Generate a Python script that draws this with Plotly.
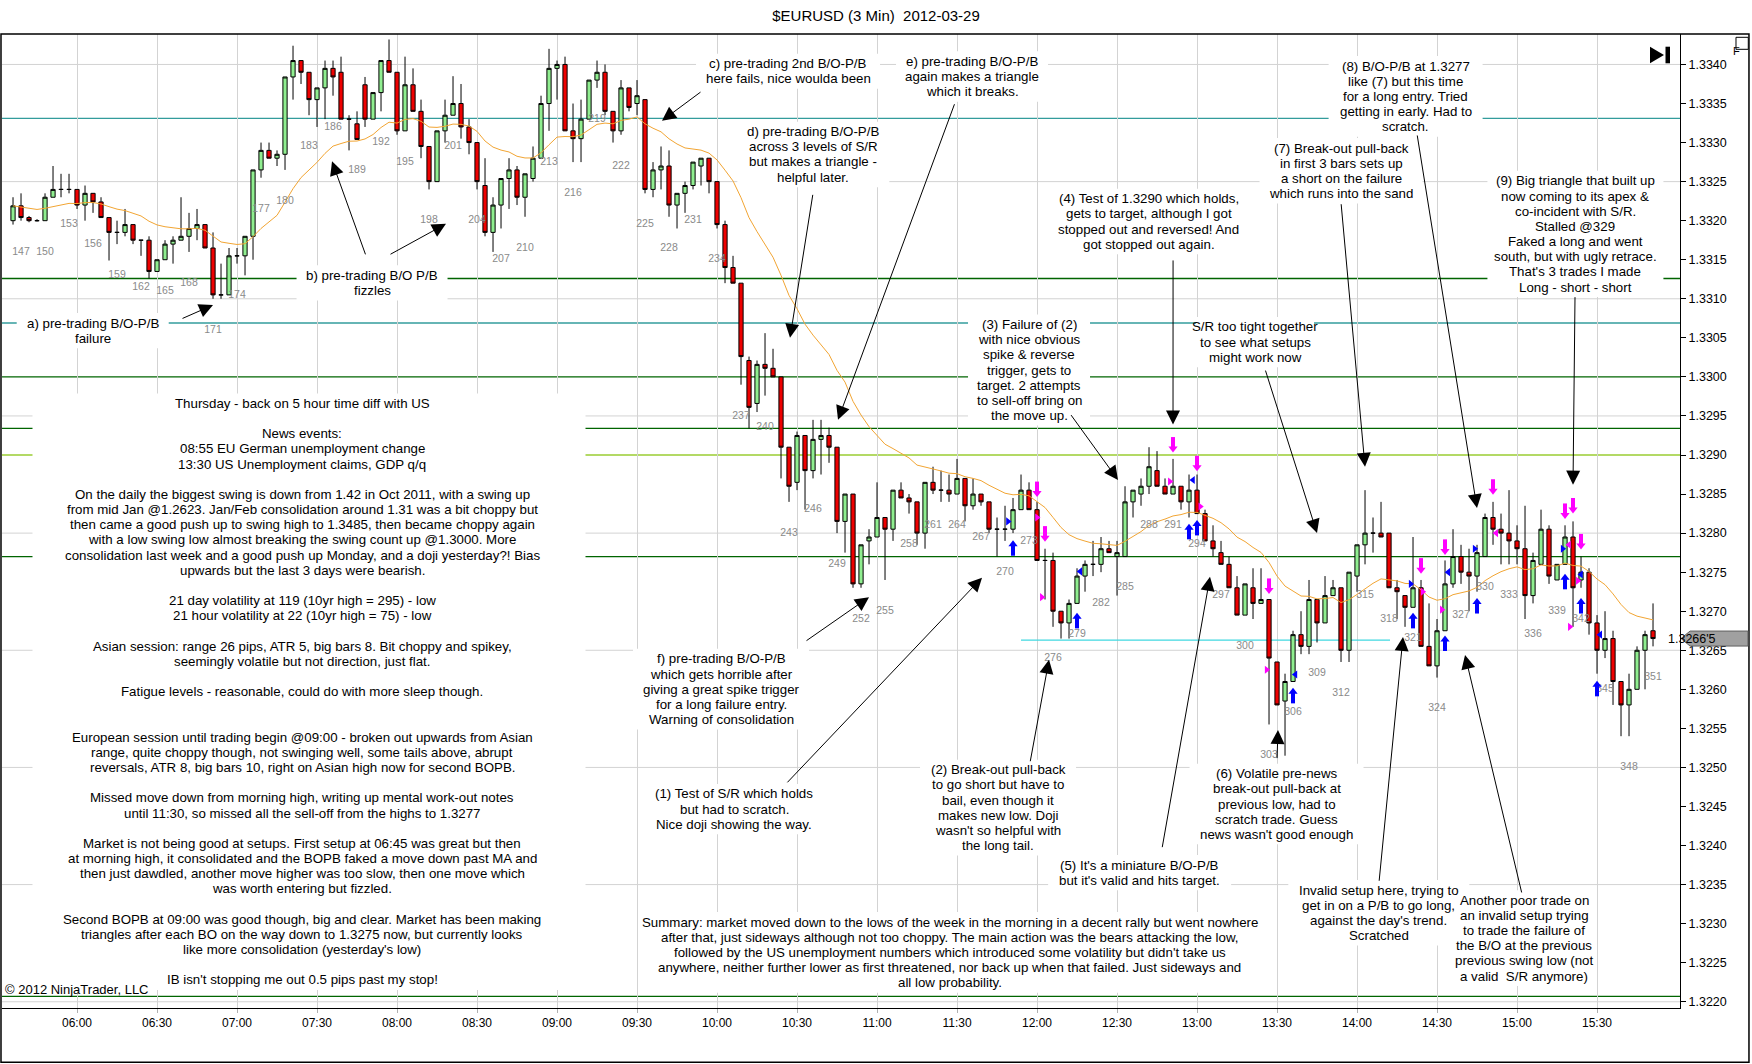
import pandas as pd
import plotly.graph_objects as go

DAY = "2012-03-29 "

# 3 minute bars, bar numbers 146..351 (bar 154 closes at 06:00)
first_bar = 146
bar_open = [
    1.33200, 1.33219, 1.33204, 1.33200, 1.33200, 1.33230, 1.33240, 1.33240, 1.33240, 1.33220,
    1.33235, 1.33224, 1.33204, 1.33185, 1.33185, 1.33195, 1.33175, 1.33175, 1.33135, 1.33150,
    1.33170, 1.33175, 1.33180, 1.33190, 1.33195, 1.33165, 1.33105, 1.33105, 1.33155, 1.33155,
    1.33180, 1.33265, 1.33290, 1.33280, 1.33285, 1.33384, 1.33405, 1.33390, 1.33355, 1.33370,
    1.33395, 1.33390, 1.33330, 1.33324, 1.33374, 1.33330, 1.33364, 1.33405, 1.33390, 1.33315,
    1.33374, 1.33340, 1.33295, 1.33250, 1.33315, 1.33335, 1.33350, 1.33320, 1.33300, 1.33245,
    1.33185, 1.33220, 1.33254, 1.33265, 1.33230, 1.33254, 1.33280, 1.33350, 1.33395, 1.33400,
    1.33315, 1.33305, 1.33330, 1.33380, 1.33390, 1.33340, 1.33315, 1.33370, 1.33350, 1.33355,
    1.33240, 1.33265, 1.33270, 1.33220, 1.33235, 1.33245, 1.33270, 1.33280, 1.33250, 1.33195,
    1.33140, 1.33120, 1.33021, 1.32966, 1.33016, 1.33011, 1.33000, 1.32910, 1.32865, 1.32925,
    1.32880, 1.32920, 1.32925, 1.32910, 1.32815, 1.32850, 1.32735, 1.32790, 1.32795, 1.32820,
    1.32805, 1.32855, 1.32845, 1.32840, 1.32800, 1.32865, 1.32855, 1.32855, 1.32850, 1.32870,
    1.32835, 1.32850, 1.32840, 1.32805, 1.32805, 1.32805, 1.32830, 1.32855, 1.32830, 1.32765,
    1.32765, 1.32700, 1.32685, 1.32710, 1.32745, 1.32760, 1.32760, 1.32780, 1.32770, 1.32770,
    1.32840, 1.32850, 1.32860, 1.32880, 1.32860, 1.32850, 1.32860, 1.32840, 1.32855, 1.32825,
    1.32790, 1.32775, 1.32760, 1.32730, 1.32695, 1.32730, 1.32710, 1.32715, 1.32635, 1.32585,
    1.32610, 1.32670, 1.32655, 1.32715, 1.32685, 1.32720, 1.32730, 1.32650, 1.32745, 1.32785,
    1.32800, 1.32800, 1.32800, 1.32730, 1.32720, 1.32705, 1.32730, 1.32655, 1.32630, 1.32675,
    1.32735, 1.32770, 1.32750, 1.32745, 1.32770, 1.32820, 1.32805, 1.32800, 1.32790, 1.32780,
    1.32720, 1.32760, 1.32805, 1.32740, 1.32760, 1.32795, 1.32740, 1.32750, 1.32685, 1.32650,
    1.32665, 1.32610, 1.32580, 1.32600, 1.32650, 1.32675,
]
bar_high = [
    1.33230, 1.33235, 1.33206, 1.33202, 1.33235, 1.33270, 1.33260, 1.33260, 1.33240, 1.33245,
    1.33235, 1.33230, 1.33204, 1.33200, 1.33215, 1.33195, 1.33175, 1.33180, 1.33150, 1.33175,
    1.33180, 1.33230, 1.33210, 1.33215, 1.33195, 1.33185, 1.33145, 1.33165, 1.33165, 1.33180,
    1.33265, 1.33300, 1.33300, 1.33290, 1.33384, 1.33424, 1.33405, 1.33390, 1.33370, 1.33405,
    1.33405, 1.33410, 1.33335, 1.33340, 1.33384, 1.33364, 1.33405, 1.33432, 1.33390, 1.33410,
    1.33395, 1.33355, 1.33295, 1.33315, 1.33355, 1.33385, 1.33375, 1.33330, 1.33300, 1.33280,
    1.33230, 1.33254, 1.33280, 1.33270, 1.33260, 1.33295, 1.33360, 1.33420, 1.33405, 1.33410,
    1.33350, 1.33355, 1.33380, 1.33405, 1.33400, 1.33340, 1.33380, 1.33370, 1.33380, 1.33355,
    1.33275, 1.33295, 1.33290, 1.33235, 1.33250, 1.33275, 1.33280, 1.33280, 1.33250, 1.33200,
    1.33155, 1.33120, 1.33026, 1.33021, 1.33056, 1.33036, 1.33000, 1.32910, 1.32930, 1.32925,
    1.32945, 1.32945, 1.32935, 1.32910, 1.32850, 1.32850, 1.32785, 1.32805, 1.32865, 1.32820,
    1.32855, 1.32865, 1.32850, 1.32840, 1.32865, 1.32885, 1.32880, 1.32875, 1.32895, 1.32870,
    1.32870, 1.32850, 1.32840, 1.32820, 1.32835, 1.32845, 1.32875, 1.32865, 1.32840, 1.32780,
    1.32775, 1.32700, 1.32715, 1.32755, 1.32765, 1.32790, 1.32795, 1.32790, 1.32790, 1.32860,
    1.32855, 1.32870, 1.32910, 1.32905, 1.32870, 1.32895, 1.32860, 1.32875, 1.32875, 1.32830,
    1.32810, 1.32790, 1.32770, 1.32745, 1.32735, 1.32755, 1.32755, 1.32715, 1.32635, 1.32620,
    1.32675, 1.32700, 1.32740, 1.32715, 1.32745, 1.32740, 1.32730, 1.32750, 1.32785, 1.32855,
    1.32820, 1.32840, 1.32800, 1.32740, 1.32720, 1.32795, 1.32740, 1.32710, 1.32690, 1.32765,
    1.32805, 1.32785, 1.32780, 1.32785, 1.32825, 1.32840, 1.32825, 1.32855, 1.32810, 1.32835,
    1.32775, 1.32830, 1.32810, 1.32760, 1.32810, 1.32815, 1.32770, 1.32755, 1.32695, 1.32700,
    1.32675, 1.32610, 1.32620, 1.32655, 1.32675, 1.32710,
]
bar_low = [
    1.33195, 1.33200, 1.33198, 1.33199, 1.33200, 1.33230, 1.33230, 1.33235, 1.33215, 1.33200,
    1.33210, 1.33204, 1.33149, 1.33170, 1.33180, 1.33170, 1.33155, 1.33126, 1.33135, 1.33150,
    1.33145, 1.33175, 1.33160, 1.33175, 1.33165, 1.33100, 1.33100, 1.33105, 1.33145, 1.33130,
    1.33150, 1.33255, 1.33280, 1.33270, 1.33265, 1.33355, 1.33375, 1.33335, 1.33320, 1.33330,
    1.33360, 1.33330, 1.33290, 1.33304, 1.33320, 1.33330, 1.33340, 1.33390, 1.33310, 1.33315,
    1.33340, 1.33280, 1.33240, 1.33250, 1.33300, 1.33335, 1.33305, 1.33285, 1.33240, 1.33180,
    1.33160, 1.33190, 1.33215, 1.33220, 1.33205, 1.33250, 1.33280, 1.33315, 1.33355, 1.33315,
    1.33275, 1.33275, 1.33330, 1.33370, 1.33335, 1.33300, 1.33310, 1.33340, 1.33335, 1.33235,
    1.33230, 1.33240, 1.33205, 1.33190, 1.33210, 1.33240, 1.33245, 1.33235, 1.33190, 1.33120,
    1.33120, 1.32990, 1.32934, 1.32955, 1.32976, 1.33000, 1.32870, 1.32840, 1.32855, 1.32830,
    1.32870, 1.32875, 1.32890, 1.32800, 1.32775, 1.32730, 1.32730, 1.32760, 1.32795, 1.32740,
    1.32790, 1.32845, 1.32825, 1.32785, 1.32780, 1.32850, 1.32840, 1.32840, 1.32850, 1.32815,
    1.32830, 1.32835, 1.32800, 1.32770, 1.32790, 1.32800, 1.32830, 1.32830, 1.32765, 1.32715,
    1.32680, 1.32665, 1.32665, 1.32710, 1.32725, 1.32745, 1.32750, 1.32775, 1.32720, 1.32770,
    1.32820, 1.32835, 1.32850, 1.32860, 1.32850, 1.32850, 1.32830, 1.32820, 1.32825, 1.32790,
    1.32770, 1.32760, 1.32730, 1.32695, 1.32695, 1.32690, 1.32710, 1.32555, 1.32580, 1.32515,
    1.32610, 1.32645, 1.32645, 1.32660, 1.32685, 1.32720, 1.32635, 1.32635, 1.32725, 1.32760,
    1.32775, 1.32795, 1.32730, 1.32690, 1.32680, 1.32705, 1.32655, 1.32630, 1.32615, 1.32675,
    1.32730, 1.32735, 1.32700, 1.32725, 1.32770, 1.32785, 1.32760, 1.32760, 1.32760, 1.32690,
    1.32710, 1.32760, 1.32735, 1.32740, 1.32760, 1.32680, 1.32730, 1.32670, 1.32620, 1.32640,
    1.32580, 1.32540, 1.32540, 1.32600, 1.32600, 1.32655,
]
bar_close = [
    1.33219, 1.33204, 1.33200, 1.33200, 1.33230, 1.33240, 1.33240, 1.33240, 1.33220, 1.33235,
    1.33224, 1.33204, 1.33185, 1.33185, 1.33195, 1.33175, 1.33175, 1.33135, 1.33150, 1.33170,
    1.33175, 1.33180, 1.33190, 1.33195, 1.33165, 1.33105, 1.33105, 1.33155, 1.33155, 1.33180,
    1.33265, 1.33290, 1.33280, 1.33285, 1.33384, 1.33405, 1.33390, 1.33355, 1.33370, 1.33395,
    1.33384, 1.33330, 1.33330, 1.33304, 1.33330, 1.33364, 1.33405, 1.33390, 1.33315, 1.33374,
    1.33340, 1.33295, 1.33250, 1.33315, 1.33335, 1.33350, 1.33320, 1.33300, 1.33250, 1.33185,
    1.33220, 1.33254, 1.33265, 1.33230, 1.33260, 1.33280, 1.33350, 1.33395, 1.33400, 1.33315,
    1.33305, 1.33330, 1.33380, 1.33390, 1.33340, 1.33315, 1.33370, 1.33345, 1.33360, 1.33240,
    1.33265, 1.33270, 1.33220, 1.33235, 1.33245, 1.33275, 1.33280, 1.33250, 1.33195, 1.33140,
    1.33120, 1.33026, 1.32961, 1.33016, 1.33011, 1.33000, 1.32910, 1.32860, 1.32925, 1.32880,
    1.32920, 1.32925, 1.32910, 1.32815, 1.32850, 1.32735, 1.32785, 1.32795, 1.32820, 1.32805,
    1.32855, 1.32845, 1.32840, 1.32800, 1.32865, 1.32855, 1.32855, 1.32850, 1.32870, 1.32835,
    1.32850, 1.32840, 1.32805, 1.32805, 1.32805, 1.32830, 1.32855, 1.32830, 1.32765, 1.32765,
    1.32700, 1.32685, 1.32710, 1.32745, 1.32760, 1.32760, 1.32780, 1.32775, 1.32775, 1.32840,
    1.32855, 1.32860, 1.32885, 1.32860, 1.32850, 1.32860, 1.32840, 1.32855, 1.32825, 1.32790,
    1.32780, 1.32760, 1.32730, 1.32695, 1.32735, 1.32710, 1.32715, 1.32640, 1.32580, 1.32610,
    1.32670, 1.32655, 1.32715, 1.32685, 1.32720, 1.32730, 1.32650, 1.32750, 1.32785, 1.32800,
    1.32800, 1.32795, 1.32730, 1.32725, 1.32705, 1.32730, 1.32655, 1.32630, 1.32675, 1.32735,
    1.32770, 1.32750, 1.32745, 1.32775, 1.32820, 1.32805, 1.32800, 1.32790, 1.32780, 1.32720,
    1.32765, 1.32805, 1.32745, 1.32760, 1.32795, 1.32730, 1.32750, 1.32685, 1.32650, 1.32665,
    1.32610, 1.32580, 1.32600, 1.32650, 1.32670, 1.32665,
]

# trade markers (time, price)
down_arrow_times = ["12:00:00", "12:03:00", "12:51:00", "13:00:00", "13:27:00", "14:24:00",
                    "14:33:00", "14:51:00", "15:18:00", "15:21:00", "15:24:00"]
down_arrow_prices = [1.32855, 1.32798, 1.32912, 1.32888, 1.32731, 1.32757,
                     1.32781, 1.32858, 1.32827, 1.32834, 1.32788]
up_arrow_times = ["11:51:00", "12:15:00", "12:57:00", "13:00:00", "13:36:00", "14:21:00",
                  "14:33:00", "14:45:00", "15:18:00", "15:24:00", "15:30:00"]
up_arrow_prices = [1.32782, 1.32689, 1.32803, 1.32808, 1.32593, 1.32689,
                   1.32660, 1.32708, 1.32739, 1.32708, 1.32602]
blue_right_times = ["11:49:06", "14:20:06", "14:44:06", "15:17:06"]
blue_right_prices = [1.32815, 1.32735, 1.32780, 1.32780]
blue_left_times = ["12:16:12", "12:58:30", "13:36:54", "14:34:12", "15:24:00", "15:31:12"]
blue_left_prices = [1.32751, 1.32868, 1.32619, 1.32750, 1.32747, 1.32670]
pink_right_times = ["12:00:00", "12:01:48", "12:49:48", "13:01:12", "13:26:06",
                    "14:24:36", "14:31:48", "15:19:48", "15:22:48"]
pink_right_prices = [1.32820, 1.32718, 1.32866, 1.32834, 1.32625,
                     1.32725, 1.32702, 1.32680, 1.32739]
pink_left_times = ["14:52:12", "15:19:30"]
pink_left_prices = [1.32800, 1.32785]

# support / resistance lines
sr_prices = [1.33331, 1.33126, 1.33069, 1.33000, 1.32934, 1.32900, 1.32770, 1.32207]
sr_colors = ["#339c9c", "#006400", "#339c9c", "#006400", "#006400", "#9acd32", "#006400", "#006400"]
cyan_line = ("11:54:00", "14:12:22", 1.32663)

grid_levels = [1.3220, 1.3235, 1.3250, 1.3265, 1.3280, 1.3295, 1.3310, 1.3325, 1.3340]
tick_labels = ["06:00", "06:30", "07:00", "07:30", "08:00", "08:30", "09:00", "09:30", "10:00",
               "10:30", "11:00", "11:30", "12:00", "12:30", "13:00", "13:30", "14:00", "14:30",
               "15:00", "15:30"]
last_price_text = "1.3266'5"

note_left = [
    "Thursday - back on 5 hour time diff with US",
    "",
    "News events:",
    "08:55 EU German unemployment change",
    "13:30 US Unemployment claims, GDP q/q",
    "",
    "On the daily the biggest swing is down from 1.42 in Oct 2011, with a swing up",
    "from mid Jan @1.2623. Jan/Feb consolidation around 1.31 was a bit choppy but",
    "then came a good push up to swing high to 1.3485, then became choppy again",
    "with a low swing low almost breaking the swing count up @1.3000. More",
    "consolidation last week and a good push up Monday, and a doji yesterday?! Bias",
    "upwards but the last 3 days were bearish.",
    "",
    "21 day volatility at 119 (10yr high = 295) - low",
    "21 hour volatility at 22 (10yr high = 75) - low",
    "",
    "Asian session: range 26 pips, ATR 5, big bars 8. Bit choppy and spikey,",
    "seemingly volatile but not direction, just flat.",
    "",
    "Fatigue levels - reasonable, could do with more sleep though.",
    "",
    "",
    "European session until trading begin @09:00 - broken out upwards from Asian",
    "range, quite choppy though, not swinging well, some tails above, abrupt",
    "reversals, ATR 8, big bars 10, right on Asian high now for second BOPB.",
    "",
    "Missed move down from morning high, writing up mental work-out notes",
    "until 11:30, so missed all the sell-off from the highs to 1.3277",
    "",
    "Market is not being good at setups. First setup at 06:45 was great but then",
    "at morning high, it consolidated and the BOPB faked a move down past MA and",
    "then just dawdled, another move higher was too slow, then one move which",
    "was worth entering but fizzled.",
    "",
    "Second BOPB at 09:00 was good though, big and clear. Market has been making",
    "triangles after each BO on the way down to 1.3275 now, but currently looks",
    "like more consolidation (yesterday's low)",
    "",
    "IB isn't stopping me out 0.5 pips past my stop!",
]
note_a = ["a) pre-trading B/O-P/B", "failure"]
note_b = ["b) pre-trading B/O P/B", "fizzles"]
note_c = ["c) pre-trading 2nd B/O-P/B", "here fails, nice woulda been"]
note_d = ["d) pre-trading B/O-P/B", "across 3 levels of S/R", "but makes a triangle -", "helpful later."]
note_e = ["e) pre-trading B/O-P/B", "again makes a triangle", "which it breaks."]
note_f = ["f) pre-trading B/O-P/B", "which gets horrible after", "giving a great spike trigger",
          "for a long failure entry.", "Warning of consolidation"]
note_1 = ["(1) Test of S/R which holds", "but had to scratch.", "Nice doji showing the way."]
note_2 = ["(2) Break-out pull-back", "to go short but have to", "bail, even though it",
          "makes new low. Doji", "wasn't so helpful with", "the long tail."]
note_3 = ["(3) Failure of (2)", "with nice obvious", "spike & reverse", "trigger, gets to",
          "target. 2 attempts", "to sell-off bring on", "the move up."]
note_4 = ["(4) Test of 1.3290 which holds,", "gets to target, although I got",
          "stopped out and reversed! And", "got stopped out again."]
note_5 = ["(5) It's a miniature B/O-P/B", "but it's valid and hits target."]
note_6 = ["(6) Volatile pre-news", "break-out pull-back at", "previous low, had to",
          "scratch trade. Guess", "news wasn't good enough"]
note_7 = ["(7) Break-out pull-back", "in first 3 bars sets up", "a short on the failure",
          "which runs into the sand"]
note_sr = ["S/R too tight together", "to see what setups", "might work now"]
note_8 = ["(8) B/O-P/B at 1.3277", "like (7) but this time", "for a long entry. Tried",
          "getting in early. Had to", "scratch."]
note_9 = ["(9) Big triangle that built up", "now coming to its apex &", "co-incident with S/R.",
          "Stalled @329", "Faked a long and went", "south, but with ugly retrace.",
          "That's 3 trades I made", "Long - short - short"]
note_invalid = ["Invalid setup here, trying to", "get in on a P/B to go long,",
                "against the day's trend.", "Scratched"]
note_another = ["Another poor trade on", "an invalid setup trying", "to trade the failure of",
                "the B/O at the previous", "previous swing low (not", "a valid  S/R anymore)"]
note_summary = [
    "Summary: market moved down to the lows of the week in the morning in a decent rally but went nowhere",
    "after that, just sideways although not too choppy. The main action was the bears attacking the low,",
    "followed by the US unemployment numbers which introduced some volatility but didn't take us",
    "anywhere, neither further lower as first threatened, nor back up when that failed. Just sideways and",
    "all low probability.",
]

FONT = "Liberation Sans, Arial, sans-serif"
LINE = 15.17

times = pd.date_range(DAY + "05:36", periods=len(bar_open), freq="3min")
bar_numbers = list(range(first_bar, first_bar + len(bar_open)))
ema = pd.Series(bar_close).ewm(span=20, adjust=False).mean()

fig = go.Figure()

fig.add_trace(go.Candlestick(
    x=times, open=bar_open, high=bar_high, low=bar_low, close=bar_close,
    increasing=dict(line=dict(color="black", width=1), fillcolor="#90ee90"),
    decreasing=dict(line=dict(color="black", width=1), fillcolor="#ee0000"),
    whiskerwidth=0, showlegend=False, hoverinfo="skip"))

fig.add_trace(go.Scatter(x=times, y=ema, mode="lines", line=dict(color="#f2a533", width=1),
                         showlegend=False, hoverinfo="skip"))

# bar numbers every third bar, under the low
lab_x = [t for t, n in zip(times, bar_numbers) if n % 3 == 0]
lab_y = [lo - 0.0004 for lo, n in zip(bar_low, bar_numbers) if n % 3 == 0]
lab_t = [str(n) for n in bar_numbers if n % 3 == 0]
fig.add_trace(go.Scatter(x=lab_x, y=lab_y, mode="text", text=lab_t,
                         textfont=dict(family=FONT, size=10.5, color="#8a8a8a"),
                         showlegend=False, hoverinfo="skip"))

d = 0.000038
def arrows(ts, ps, color, down):
    xs = [DAY + t for t in ts]
    sign = 1 if down else -1
    fig.add_trace(go.Scatter(x=xs, y=[p + sign * d for p in ps], mode="markers",
                             marker=dict(symbol="line-ns", size=8, line=dict(color=color, width=4)),
                             showlegend=False, hoverinfo="skip"))
    fig.add_trace(go.Scatter(x=xs, y=[p - sign * d for p in ps], mode="markers",
                             marker=dict(symbol="triangle-down" if down else "triangle-up", size=8,
                                         color=color, line=dict(width=0)),
                             showlegend=False, hoverinfo="skip"))

arrows(down_arrow_times, down_arrow_prices, "#ff00ff", True)
arrows(up_arrow_times, up_arrow_prices, "#0000ff", False)

for ts, ps, color, sym in [(blue_right_times, blue_right_prices, "#0000ff", "triangle-right"),
                           (blue_left_times, blue_left_prices, "#0000ff", "triangle-left"),
                           (pink_right_times, pink_right_prices, "#ff00ff", "triangle-right"),
                           (pink_left_times, pink_left_prices, "#ff00ff", "triangle-left")]:
    fig.add_trace(go.Scatter(x=[DAY + t for t in ts], y=ps, mode="markers",
                             marker=dict(symbol=sym, size=7, color=color, line=dict(width=0)),
                             showlegend=False, hoverinfo="skip"))

shapes = []
for g in grid_levels:
    shapes.append(dict(type="line", xref="paper", x0=0, x1=1, yref="y", y0=g, y1=g,
                       line=dict(color="#d3d3d3", width=1), layer="below"))
for p, c in zip(sr_prices, sr_colors):
    shapes.append(dict(type="line", xref="paper", x0=0, x1=1, yref="y", y0=p, y1=p,
                       line=dict(color=c, width=1.3), layer="between"))
shapes.append(dict(type="line", xref="x", x0=DAY + cyan_line[0], x1=DAY + cyan_line[1], yref="y",
                   y0=cyan_line[2], y1=cyan_line[2], line=dict(color="#40d8e0", width=1.3),
                   layer="between"))

annotations = []

# notes: (lines, centre time, price of first line, box width px, box shift px)
notes = [
    (note_left, "07:24:22", 1.32966, 553, 7),
    (note_a, "06:05:53", 1.33069, 152, 0),
    (note_b, "07:50:38", 1.33130, 151, 0),
    (note_c, "10:26:38", 1.33401, 184, 0),
    (note_d, "10:36:07", 1.33314, 152, 0),
    (note_e, "11:35:38", 1.33404, 152, 0),
    (note_f, "10:01:30", 1.32639, 176, 0),
    (note_1, "10:06:23", 1.32466, 180, 0),
    (note_2, "11:45:23", 1.32497, 156, 0),
    (note_3, "11:57:00", 1.33067, 122, 0),
    (note_4, "12:41:51", 1.33228, 200, 0),
    (note_5, "12:38:29", 1.32375, 183, 0),
    (note_6, "13:29:49", 1.32492, 174, 0),
    (note_7, "13:54:00", 1.33293, 163, 0),
    (note_sr, "13:21:45", 1.33064, 118, 0),
    (note_8, "14:18:13", 1.33398, 154, 0),
    (note_9, "15:21:54", 1.33251, 176, 0),
    (note_invalid, "14:08:10", 1.32343, 181, 0),
    (note_another, "15:02:38", 1.32330, 123, 0),
    (note_summary, "11:27:16", 1.32302, 623, 0),
]
for lines, t, p, w, sh in notes:
    n = len(lines)
    shapes.append(dict(type="rect", layer="above", xref="x", yref="y",
                       xsizemode="pixel", ysizemode="pixel", xanchor=DAY + t, yanchor=p,
                       x0=-w / 2 + sh, x1=w / 2 + sh, y0=10, y1=-(n - 1) * LINE - 10,
                       fillcolor="white", line=dict(width=0)))
    for i, s in enumerate(lines):
        if s:
            annotations.append(dict(x=DAY + t, y=p, xref="x", yref="y", text=s, showarrow=False,
                                    yshift=-i * LINE, font=dict(family=FONT, size=13.3, color="black")))

# pointer arrows: tip time, tip price, tail time, tail price
pointers = [
    ("06:51:00", 1.33092, "06:39:00", 1.33074),
    ("07:35:38", 1.33276, "07:48:22", 1.33155),
    ("08:18:22", 1.33196, "07:57:00", 1.33156),
    ("09:39:22", 1.33328, "09:54:22", 1.33366),
    ("10:27:22", 1.33050, "10:36:00", 1.33235),
    ("10:45:22", 1.32945, "11:29:15", 1.33351),
    ("10:57:00", 1.32718, "10:33:00", 1.32661),
    ("11:39:22", 1.32743, "10:25:52", 1.32479),
    ("12:04:30", 1.32638, "11:57:22", 1.32506),
    ("12:30:22", 1.32868, "12:12:22", 1.32953),
    ("12:51:00", 1.32939, "12:51:01", 1.33151),
    ("13:04:52", 1.32744, "12:46:52", 1.32396),
    ("13:30:22", 1.32548, "13:30:00", 1.32510),
    ("14:03:00", 1.32885, "13:54:00", 1.33223),
    ("13:45:00", 1.32800, "13:25:30", 1.33010),
    ("14:45:00", 1.32832, "14:22:30", 1.33311),
    ("15:21:00", 1.32862, "15:21:45", 1.33104),
    ("14:17:15", 1.32667, "14:08:15", 1.32353),
    ("14:40:30", 1.32644, "15:01:52", 1.32338),
]
for tx, ty, sx, sy in pointers:
    annotations.append(dict(x=DAY + tx, y=ty, xref="x", yref="y", ax=DAY + sx, ay=sy,
                            axref="x", ayref="y", text="", showarrow=True, arrowhead=2,
                            arrowsize=2.8, arrowwidth=1, arrowcolor="black", standoff=0))

# frame, last price marker, toolbar glyphs
shapes.append(dict(type="rect", xref="paper", yref="paper", x0=-0.0006, x1=1.0411, y0=-0.0556, y1=1.0,
                   line=dict(color="black", width=1.5), layer="above"))
lp = 1.32665
shapes.append(dict(type="path", xref="paper", yref="y", layer="above",
                   path=f"M 1.0006,{lp} L 1.0060,{lp + 0.000096} L 1.0405,{lp + 0.000096} "
                        f"L 1.0405,{lp - 0.000096} L 1.0060,{lp - 0.000096} Z",
                   fillcolor="#a0a0a0", line=dict(color="#606060", width=1)))
annotations.append(dict(x=1.0226, y=lp, xref="paper", yref="y", text=last_price_text, showarrow=False,
                        font=dict(family=FONT, size=12.5, color="black")))
shapes.append(dict(type="path", xref="paper", yref="paper", layer="above",
                   path="M 0.98212,0.98696 L 0.99047,0.97844 L 0.98212,0.96992 Z",
                   fillcolor="black", line=dict(width=0)))
shapes.append(dict(type="rect", xref="paper", yref="paper", layer="above",
                   x0=0.99136, x1=0.99404, y0=0.96992, y1=0.98696,
                   fillcolor="black", line=dict(width=0)))
shapes.append(dict(type="rect", xref="paper", yref="paper", layer="above",
                   x0=1.03337, x1=1.04070, y0=0.98429, y1=0.99661,
                   fillcolor="white", line=dict(color="black", width=1)))
annotations.append(dict(x=1.03703, y=0.99045, xref="paper", yref="paper", text="F", showarrow=False,
                        font=dict(family=FONT, size=11, color="black")))
annotations.append(dict(x=0.0006, y=0.0092, xref="paper", yref="paper", xanchor="left",
                        text="\u00a9 2012 NinjaTrader, LLC", showarrow=False,
                        font=dict(family=FONT, size=13, color="black")))

fig.update_layout(
    width=1752, height=1064,
    margin=dict(l=2, r=72, t=34, b=56),
    paper_bgcolor="white", plot_bgcolor="white",
    title=dict(text="$EURUSD (3 Min)  2012-03-29", x=0.5, xref="container", xanchor="center",
               y=0.985, yref="container", yanchor="middle",
               font=dict(family=FONT, size=15, color="black")),
    showlegend=False, hovermode=False,
    boxgap=0.25,
    shapes=shapes, annotations=annotations,
    xaxis=dict(type="date", range=[DAY + "05:31:52", DAY + "16:01:07"],
               tickvals=[DAY + t for t in tick_labels], ticktext=tick_labels,
               showgrid=True, gridcolor="#d3d3d3", gridwidth=1,
               ticks="outside", ticklen=4, tickcolor="#b0b0b0",
               showline=True, linecolor="black", linewidth=1, zeroline=False,
               tickfont=dict(family=FONT, size=12, color="black"),
               rangeslider=dict(visible=False)),
    yaxis=dict(side="right", range=[1.32192, 1.33439], tick0=1.322, dtick=0.0005,
               tickformat=".4f", showgrid=False, zeroline=False,
               ticks="outside", ticklen=5, tickcolor="black",
               showline=True, linecolor="black", linewidth=1,
               tickfont=dict(family=FONT, size=12.5, color="black")),
)

# the page body has a default margin; remove it so the figure sits at the window origin
fig.write_html("out.html", config={"displayModeBar": False},
               post_script="document.body.style.margin='0';")
